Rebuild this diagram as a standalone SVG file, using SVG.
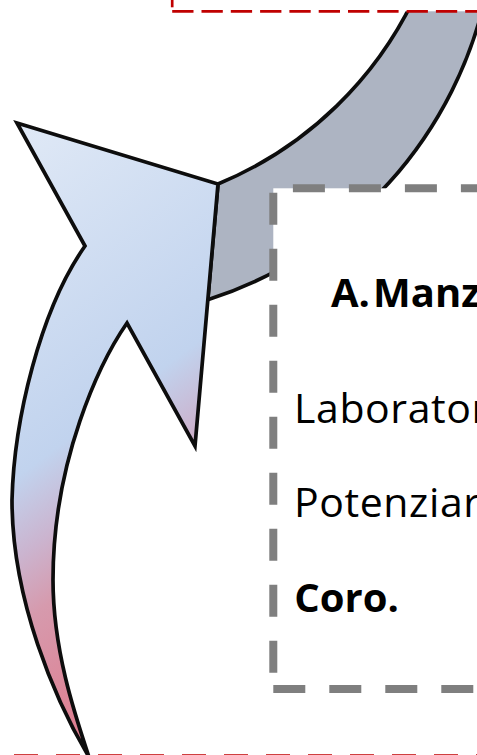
<svg xmlns="http://www.w3.org/2000/svg" width="477" height="755" viewBox="0 0 477 755">
<style>
  .outline { stroke: #0d0d0d; stroke-width: 3.7; stroke-linejoin: miter; stroke-miterlimit: 10; }
  .red { fill: none; stroke: #c00000; }
  .graydash { fill: none; stroke: #7f7f7f; stroke-width: 8; stroke-dasharray: 32 24; }
  .txt { font-family: "Open Sans", "Noto Sans", "Liberation Sans", sans-serif; font-size: 41px; letter-spacing: 0.6px; fill: #000000; }
  .b { font-weight: bold; font-size: 40px; letter-spacing: 0; }
</style>
<defs>
  <linearGradient id="blueRose" gradientUnits="userSpaceOnUse" x1="17" y1="123" x2="344" y2="559">
    <stop offset="0" stop-color="#e0e9f6"/>
    <stop offset="0.52" stop-color="#c1d3ee"/>
    <stop offset="0.64" stop-color="#cbb4cf"/>
    <stop offset="0.74" stop-color="#d69aad"/>
    <stop offset="1" stop-color="#e07a8c"/>
  </linearGradient>
</defs>

<g id="connectors">
  <path id="gray-arc-arrow" class="outline" fill="#adb4c2"
        d="M 218,184 A 378 378 0 0 0 418,-10 L 487,-10 A 414.4 414.4 0 0 1 207.8,299.8 Z"/>
</g>

<g id="frame-top">
  <rect x="172.2" y="-60" width="400" height="71.3" fill="#ffffff"/>
  <path class="red" stroke-width="2.67" stroke-dasharray="21.3 8" stroke-dashoffset="25.3" d="M 172.2,11.3 V -40"/>
  <path class="red" stroke-width="2.67" stroke-dasharray="21.3 8" d="M 172.2,11.3 H 520"/>
</g>

<g id="frame-bottom">
  <rect x="-28" y="757.3" width="560" height="60" fill="#ffffff"/>
  <path class="red" stroke-width="6" stroke-dasharray="24 18" d="M -28,757.3 H 520"/>
</g>

<g id="box">
  <rect x="273.3" y="188.3" width="300" height="500.7" fill="#ffffff"/>
  <path class="graydash" stroke-dashoffset="39.7" d="M 273.3,689 V 188.3 H 520"/>
  <path class="graydash" d="M 273.3,689 H 520"/>
  <text class="txt b" y="306.7"><tspan x="331">A.</tspan><tspan x="373">Manz</tspan></text>
  <text class="txt" x="294" y="423.3">Laborator</text>
  <text class="txt" x="294" y="516.7">Potenziar</text>
  <text class="txt b" x="294.3" y="611.7">Coro.</text>
</g>

<g id="curved-arrow">
  <path class="outline" fill="url(#blueRose)"
        d="M 17,123 L 218,184 L 195,446 L 127,323
           C 100,362 53,460 53,580
           C 53,650 75,715 89,757
           C 55,700 12,600 12,500
           C 14,420 40,310 85,246 Z"/>
</g>
</svg>
